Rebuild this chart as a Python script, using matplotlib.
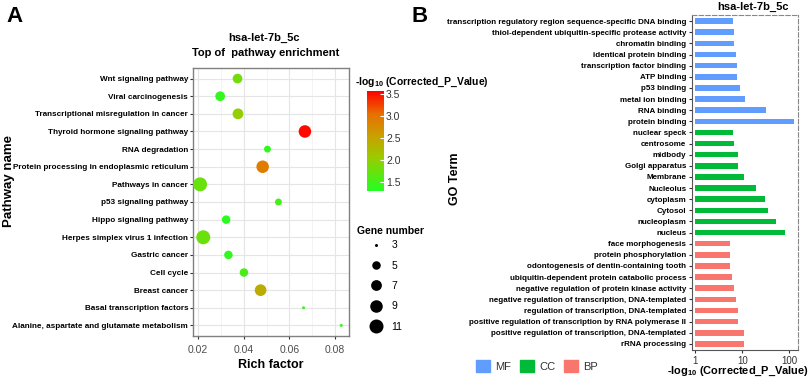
import numpy as np
import matplotlib
matplotlib.use("Agg")
import matplotlib.pyplot as plt
from matplotlib.colors import LinearSegmentedColormap
from matplotlib.lines import Line2D
from matplotlib.patches import Patch

plt.rcParams['font.family'] = ['Liberation Sans', 'DejaVu Sans']
plt.rcParams['mathtext.fontset'] = 'custom'
plt.rcParams['mathtext.rm'] = 'Liberation Sans'
plt.rcParams['mathtext.bf'] = 'Liberation Sans:bold'

# panel A - KEGG pathway enrichment (top row first)
pathways = ["Wnt signaling pathway", "Viral carcinogenesis",
            "Transcriptional misregulation in cancer",
            "Thyroid hormone signaling pathway", "RNA degradation",
            "Protein processing in endoplasmic reticulum",
            "Pathways in cancer", "p53 signaling pathway",
            "Hippo signaling pathway", "Herpes simplex virus 1 infection",
            "Gastric cancer", "Cell cycle", "Breast cancer",
            "Basal transcription factors",
            "Alanine, aspartate and glutamate metabolism"]
rich_factor = [0.0373, 0.0297, 0.0375, 0.0668, 0.0504, 0.0483, 0.0209, 0.0552,
               0.0323, 0.0223, 0.0333, 0.0401, 0.0474, 0.0662, 0.0827]
gene_number = [6, 6, 7, 9, 4, 9, 11, 4, 5, 11, 5, 5, 8, 3, 3]
neglog_p = [1.8, 1.4, 2.0, 3.5, 1.4, 2.9, 1.75, 1.5, 1.35, 1.75, 1.4, 1.55, 2.4, 1.4, 1.4]
legend_sizes = [3, 5, 7, 9, 11]

# panel B - GO terms (top row first)
go_terms = ["transcription regulatory region sequence-specific DNA binding",
            "thiol-dependent ubiquitin-specific protease activity",
            "chromatin binding", "identical protein binding",
            "transcription factor binding", "ATP binding", "p53 binding",
            "metal ion binding", "RNA binding", "protein binding",
            "nuclear speck", "centrosome", "midbody", "Golgi apparatus",
            "Membrane", "Nucleolus", "cytoplasm", "Cytosol", "nucleoplasm",
            "nucleus",
            "face morphogenesis", "protein phosphorylation",
            "odontogenesis of dentin-containing tooth",
            "ubiquitin-dependent protein catabolic process",
            "negative regulation of protein kinase activity",
            "negative regulation of transcription, DNA-templated",
            "regulation of transcription, DNA-templated",
            "positive regulation of transcription by RNA polymerase II",
            "positive regulation of transcription, DNA-templated",
            "rRNA processing"]
go_values = [6.4, 6.7, 6.7, 7.25, 7.85, 7.9, 9.1, 11.5, 33, 130,
             6.2, 6.7, 8.1, 8.2, 11, 19.8, 31.4, 35.9, 52.5, 83,
             5.5, 5.5, 5.6, 5.9, 6.6, 7.5, 8.3, 8.3, 11.1, 11.1]
go_class = ["MF"] * 10 + ["CC"] * 10 + ["BP"] * 10
class_colors = {"MF": "#619CFF", "CC": "#00BA38", "BP": "#F8766D"}

W, H = 809, 379


def box(x0, y0, x1, y1):
    # pixel box -> figure fraction
    return [x0 / W, 1 - y1 / H, (x1 - x0) / W, (y1 - y0) / H]


def dot_diam(n):
    # ggplot-like area scale, diameter in points
    d = 3 + 11 * np.sqrt((np.asarray(n) - 3) / 8.0)
    return d * 0.72


fig = plt.figure(figsize=(W / 100, H / 100), dpi=100)

cmap = LinearSegmentedColormap.from_list(
    "gr", [(0, "#22ff22"), (0.33, "#99cc00"), (0.55, "#c9a000"),
           (0.77, "#e87000"), (1, "#ff0000")])

# ---- panel A ----
axA = fig.add_axes(box(193, 68, 349, 336))
ypA = np.arange(len(pathways))[::-1]
sc = axA.scatter(rich_factor, ypA, s=dot_diam(gene_number) ** 2, c=neglog_p,
                 cmap=cmap, vmin=1.29, vmax=3.56, edgecolors='none', zorder=3)
axA.set_xlim(0.0178, 0.0861)
axA.set_ylim(-0.6, len(pathways) - 0.4)
axA.set_xticks([0.02, 0.04, 0.06, 0.08])
axA.set_xticklabels(["0.02", "0.04", "0.06", "0.08"])
axA.set_xticks([0.03, 0.05, 0.07], minor=True)
axA.set_yticks(ypA)
axA.set_yticklabels(pathways, fontsize=5.85, fontweight='bold')
axA.grid(True, which='major', color='#e5e5e5', lw=0.8)
axA.grid(True, which='minor', axis='x', color='#f0f0f0', lw=0.5)
axA.set_axisbelow(True)
for s in axA.spines.values():
    s.set_color('#808080')
    s.set_linewidth(1)
axA.tick_params(axis='x', which='major', labelsize=7.5, length=2.5,
                color='#333333', labelcolor='#4d4d4d', pad=4)
axA.tick_params(axis='x', which='minor', length=0)
axA.tick_params(axis='y', length=2.5, color='#333333', pad=1)
axA.set_xlabel("Rich factor", fontsize=9, fontweight='bold', labelpad=3)
axA.set_ylabel("Pathway name", fontsize=9.5, fontweight='bold')
axA.yaxis.set_label_coords(-1.14, 0.58)

fig.text(264 / W, 1 - 38 / H, "hsa-let-7b_5c", ha='center', va='center',
         fontsize=8, fontweight='bold')
fig.text(266 / W, 1 - 53 / H, "Top of  pathway enrichment", ha='center',
         va='center', fontsize=8, fontweight='bold')
fig.text(15 / W, 1 - 17 / H, "A", ha='center', va='center', fontsize=16,
         fontweight='bold')

# colorbar
cax = fig.add_axes(box(367, 91, 384, 191))
cb = fig.colorbar(sc, cax=cax)
cb.set_ticks([1.5, 2.0, 2.5, 3.0, 3.5])
cb.set_ticklabels(["1.5", "2.0", "2.5", "3.0", "3.5"])
cb.outline.set_visible(False)
cax.tick_params(length=3, width=0.8, color='white', direction='in',
                labelsize=7.5, labelcolor='#333333', pad=1.5)
fig.text(355 / W, 1 - 82 / H, r"-log$_{\mathbf{10}}$ (Corrected_P_Value)",
         ha='left', va='center', fontsize=7.5, fontweight='bold')

# size legend
fig.text(357 / W, 1 - 231 / H, "Gene number", ha='left', va='center',
         fontsize=7.5, fontweight='bold')
handles = [Line2D([], [], marker='o', ls='', color='black', markeredgewidth=0,
                  markersize=dot_diam(n)) for n in legend_sizes]
fig.legend(handles, [str(n) for n in legend_sizes], loc='upper left',
           bbox_to_anchor=(362 / W, 1 - 235 / H), frameon=False,
           fontsize=7.5, labelspacing=1.0, handlelength=1.6,
           handletextpad=0.75, borderpad=0.0)

# ---- panel B ----
axB = fig.add_axes(box(691.7, 15, 798.3, 350))
ypB = np.arange(len(go_terms))[::-1]
bar_w = np.array(go_values) - 1
axB.barh(ypB, bar_w, left=1, height=0.5,
         color=[class_colors[c] for c in go_class], zorder=3)
axB.set_xscale('log')
axB.set_xlim(0.83, 158)
axB.set_ylim(-0.55, len(go_terms) - 0.45)
axB.set_xticks([1, 10, 100])
axB.set_xticklabels(["1", "10", "100"])
axB.xaxis.set_minor_locator(plt.NullLocator())
axB.set_yticks(ypB)
axB.set_yticklabels(go_terms, fontsize=5.8, fontweight='bold')
axB.tick_params(axis='y', length=2.5, color='#333333', pad=1.5)
axB.tick_params(axis='x', length=2.5, color='#333333', labelsize=7,
                labelcolor='#333333', pad=2)
for side in ['top', 'right']:
    axB.spines[side].set_linestyle((0, (4, 2)))
    axB.spines[side].set_color('#888888')
for side in ['left', 'bottom']:
    axB.spines[side].set_color('#555555')
axB.set_ylabel("GO Term", fontsize=9, fontweight='bold')
axB.yaxis.set_label_coords(-2.16, 0.51)
axB.set_xlabel(r"-log$_{\mathbf{10}}$ (Corrected_P_Value)", fontsize=7.9,
               fontweight='bold')
axB.xaxis.set_label_coords(0.43, -0.045)
fig.text(753 / W, 1 - 7 / H, "hsa-let-7b_5c", ha='center', va='center',
         fontsize=8, fontweight='bold')
fig.text(420 / W, 1 - 17 / H, "B", ha='center', va='center', fontsize=16,
         fontweight='bold')

patches = [Patch(color=class_colors[k], label=k) for k in ["MF", "CC", "BP"]]
fig.legend(handles=patches, loc='center left', ncol=3,
           bbox_to_anchor=(466 / W, 1 - 366 / H), frameon=False, fontsize=8,
           handlelength=1.3, handleheight=1.3, handletextpad=0.45,
           columnspacing=0.75, labelcolor='#333333')

fig.savefig("out.png", dpi=100)
